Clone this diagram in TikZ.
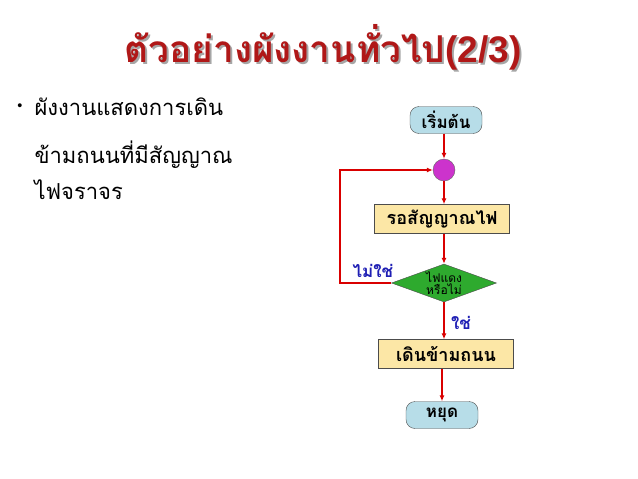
\documentclass[tikz,border=0pt]{standalone}
\usepackage{fontspec}
\usetikzlibrary{shapes.geometric,arrows.meta}
\newfontfamily\thai[Script=Thai]{Loma}
\setmainfont{Liberation Sans}
\definecolor{ttl}{HTML}{B01818}
\definecolor{term}{HTML}{B7DDE8}
\definecolor{proc}{HTML}{FCE7A6}
\definecolor{dec}{HTML}{2EAA2E}
\definecolor{junc}{HTML}{CC33CC}
\definecolor{lbl}{HTML}{1F1FB4}
\tikzset{
 termbox/.style={draw=black!70,fill=term,rounded corners=9pt,minimum width=72pt,minimum height=27pt,inner sep=1pt,font=\thai\bfseries\fontsize{17}{18}\selectfont},
 procbox/.style={draw=black!70,fill=proc,minimum width=135pt,minimum height=29pt,inner sep=1pt,font=\thai\bfseries\fontsize{18}{19}\selectfont},
 decbox/.style={diamond,draw=black!70,fill=dec,aspect=2.8,minimum width=105pt,minimum height=38pt,inner sep=0pt,font=\thai\fontsize{12}{12}\selectfont,align=center},
 flow/.style={red!85!black,line width=1.3pt,-{Latex[length=6pt,width=5pt]}},
 lab/.style={text=lbl,font=\thai\bfseries\fontsize{17}{18}\selectfont},
 body/.style={font=\thai\fontsize{22}{24}\selectfont,anchor=west}
}
\begin{document}
\begin{tikzpicture}[x=1pt,y=-1pt]
\useasboundingbox (0,0) rectangle (638,479);
\node (shadow) [text=black!35,font=\thai\bfseries\fontsize{37}{40}\selectfont] at (325,49) {ตัวอย่างผังงานทั่วไป\textrm{(2/3)}};
\node (title) [text=ttl,font=\thai\bfseries\fontsize{37}{40}\selectfont] at (323,47) {ตัวอย่างผังงานทั่วไป\textrm{(2/3)}};
\node (b) [font=\Large] at (20,107) {\textbullet};
\node (t1) [body] at (31,107) {ผังงานแสดงการเดิน};
\node (t2) [body] at (31,155) {ข้ามถนนที่มีสัญญาณ};
\node (t3) [body] at (31,190) {ไฟจราจร};
\node (start) [termbox] at (446,120) {เริ่มต้น};
\node (j) [circle,draw=black!60,fill=junc,minimum size=22pt,inner sep=0pt] at (444,170) {};
\node (wait) [procbox] at (442,219) {รอสัญญาณไฟ};
\node (d) [decbox] at (444,283) {ไฟแดง\\หรือไม่};
\node (walk) [procbox] at (446,354) {เดินข้ามถนน};
\node (stop) [termbox] at (442,415) {หยุด};
\coordinate (c1) at (340,283);
\coordinate (c2) at (340,170);
\draw[flow] (start.south -| j) -- (j);
\draw[flow] (j) -- (j |- wait.north);
\draw[flow] (wait.south -| d) -- (d);
\draw[flow] (d) -- (d |- walk.north);
\draw[flow] (walk.south -| stop) -- (stop);
\draw[flow] (d.west) -- (c1) -- (c2) -- (j);
\node (no) [lab] at (373,271) {ไม่ใช่};
\node (yes) [lab] at (461,323) {ใช่};
\end{tikzpicture}
\end{document}
